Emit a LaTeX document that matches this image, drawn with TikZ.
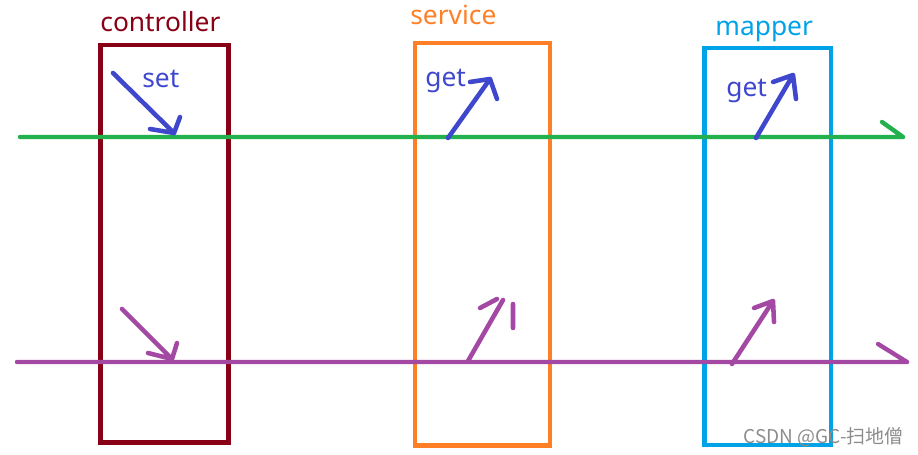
\documentclass[tikz,border=0pt]{standalone}
\usepackage{fontspec}
\setmainfont{Noto Sans}
\newfontfamily\cjk{Noto Sans CJK SC}
\usepackage{xcolor}
\definecolor{ctrlred}{RGB}{136,0,21}
\definecolor{svcorange}{RGB}{255,127,39}
\definecolor{mapblue}{RGB}{0,162,232}
\definecolor{flowgreen}{RGB}{34,177,76}
\definecolor{flowpurple}{RGB}{163,73,164}
\definecolor{penblue}{RGB}{63,72,204}
\usepackage{tikz}
\usetikzlibrary{fit,positioning}

\begin{document}
\begin{tikzpicture}[x=0.02cm,y=-0.02cm,
  layer/.style={draw=#1,line width=2.8pt,inner sep=0pt},
  title/.style={text=#1,font=\fontsize{15}{18}\selectfont,inner sep=0pt,anchor=base west},
  flow/.style={draw=#1,line width=2.5pt,line cap=round},
  pen/.style={draw=#1,line width=2.6pt,line cap=round,line join=round}]
  \useasboundingbox (0,0) rectangle (918,455);
  \node[layer=ctrlred,fit={(100.5,45)(228.5,442.5)}] (ctrl) {};
  \node[layer=svcorange,fit={(415,43)(550,445.5)}] (svc) {};
  \node[layer=mapblue,fit={(704.5,48)(831,445)}] (map) {};
  \node[title=ctrlred] (ctrllab) at (100,32) {controller};
  \node[title=svcorange] (svclab) at (410,25) {service};
  \node[title=mapblue] (maplab) at (715,36) {mapper};
  \node[title=penblue] (setlab) at (142,88) {set};
  \node[title=penblue] (get1lab) at (425,87) {get};
  \node[title=penblue] (get2lab) at (726,97) {get};
  % upper flow
  \coordinate (gL) at (20,137);
  \coordinate (gR) at (903,137);
  \coordinate (gH) at (882,122);
  \draw[flow=flowgreen] (gL)--(gR) (gH)--(gR);
  % lower flow
  \coordinate (pL) at (17,362);
  \coordinate (pR) at (907,362);
  \coordinate (pH) at (878,344);
  \draw[flow=flowpurple] (pL)--(pR) (pH)--(pR);
  % set / get on the upper flow
  \coordinate (s0) at (113,73);
  \coordinate (s1) at (174,133);
  \coordinate (s2) at (180,117);
  \coordinate (s3) at (150,129);
  \draw[pen=penblue] (s0)--(s1) (s2)--(s1) (s3)--(s1);
  \coordinate (a0) at (448,138);
  \coordinate (a1) at (490,79);
  \coordinate (a2) at (470,82);
  \coordinate (a3) at (497,99);
  \draw[pen=penblue] (a0)--(a1) (a2)--(a1)--(a3);
  \coordinate (b0) at (756,138);
  \coordinate (b1) at (793,75);
  \coordinate (b2) at (773,82);
  \coordinate (b3) at (796,99);
  \draw[pen=penblue] (b0)--(b1) (b2)--(b1)--(b3);
  % arrows on the lower flow
  \coordinate (c0) at (122,309);
  \coordinate (c1) at (172,359);
  \coordinate (c2) at (148,353);
  \coordinate (c3) at (177,343);
  \draw[pen=flowpurple] (c0)--(c1) (c2)--(c1) (c3)--(c1);
  \coordinate (d0) at (468,361);
  \coordinate (d1) at (503,300);
  \coordinate (d2) at (480,308);
  \coordinate (d3) at (497,299);
  \coordinate (d4) at (513,304);
  \coordinate (d5) at (513,328);
  \draw[pen=flowpurple] (d0)--(d1) (d2)--(d3) (d4)--(d5);
  \coordinate (e0) at (732,364);
  \coordinate (e1) at (773,301);
  \coordinate (e2) at (754,308);
  \coordinate (e3) at (774,322);
  \draw[pen=flowpurple] (e0)--(e1) (e2)--(e1)--(e3);
  \node[text=black!45,font=\cjk\fontsize{10.8}{12}\selectfont,anchor=base east,inner sep=0pt] (mark) at (904,443) {CSDN @GC-扫地僧};
\end{tikzpicture}
\end{document}
